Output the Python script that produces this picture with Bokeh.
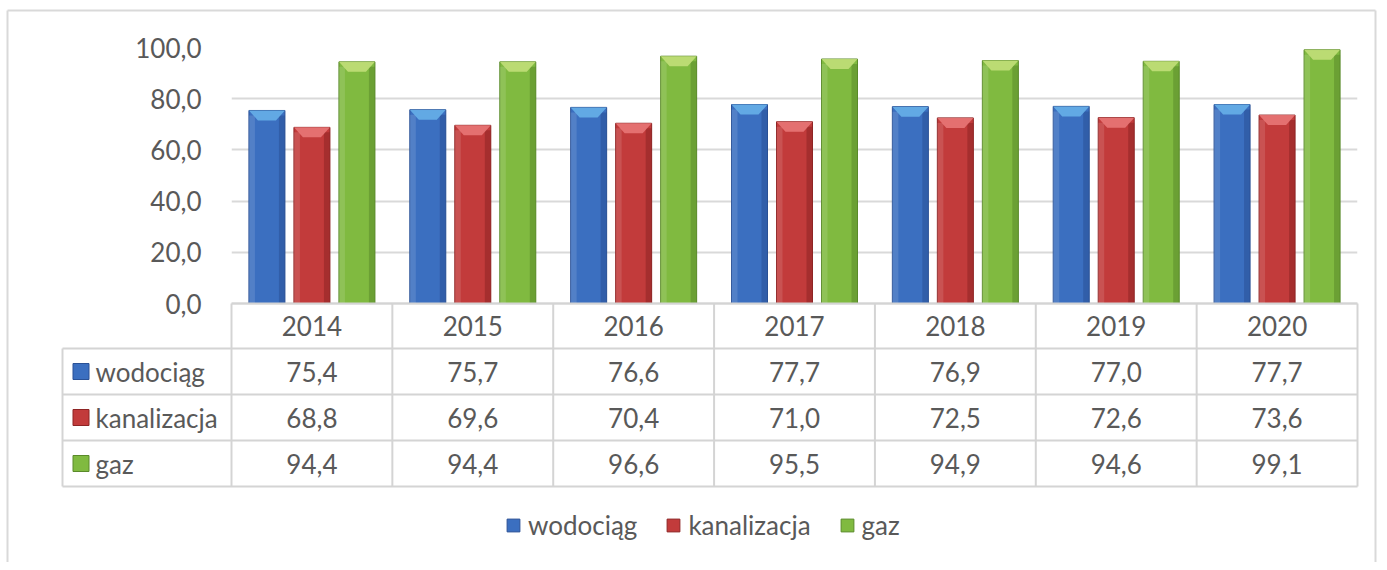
import numpy as np
from bokeh.plotting import figure
from bokeh.models import Range1d, FixedTicker, Legend, LegendItem, ColumnDataSource
from bokeh.embed import file_html
from bokeh.resources import INLINE
from bokeh.core.properties import value

# ---------------- data ----------------
years = ["2014", "2015", "2016", "2017", "2018", "2019", "2020"]
series_names = ["wodociąg", "kanalizacja", "gaz"]
wodociag = [75.4, 75.7, 76.6, 77.7, 76.9, 77.0, 77.7]
kanalizacja = [68.8, 69.6, 70.4, 71.0, 72.5, 72.6, 73.6]
gaz = [94.4, 94.4, 96.6, 95.5, 94.9, 94.6, 99.1]
y_ticks = [0, 20, 40, 60, 80, 100]

# ---------------- style ----------------
FONT_NAME = "Lato"
FONT = value(FONT_NAME)
FS = "26px"
TXT = "#595959"
GRID = "#d9d9d9"
colors = ["#3b6fc0", "#c23b3b", "#80ba40"]
dark = ["#2a5196", "#8e2424", "#5a8a2a"]
caps = ["#6ab4ea", "#ea7a7a", "#c6e07c"]

W, H = 1377, 562
FRAME_L, FRAME_R, FRAME_T = 231, 1357, 47
frame_h = H - FRAME_T
PX_PER_UNIT = 2.56
y_top = 100
y_bottom = y_top - frame_h / PX_PER_UNIT
frame_w = FRAME_R - FRAME_L
n = len(years)
PX_PER_CAT = frame_w / n


def px_x(sx):
    return (sx - FRAME_L) / PX_PER_CAT


def px_y(sy):
    return y_top - (sy - FRAME_T) / PX_PER_UNIT


p = figure(width=W, height=H, output_backend="svg", toolbar_location=None,
           x_range=Range1d(0, n), y_range=Range1d(y_bottom, y_top),
           min_border_left=FRAME_L, min_border_right=W - FRAME_R,
           min_border_top=FRAME_T, min_border_bottom=0,
           background_fill_color="white", border_fill_color="white")
p.outline_line_color = None
p.xaxis.visible = False
p.xgrid.grid_line_color = None
p.ygrid.grid_line_color = GRID
p.ygrid.grid_line_width = 2
p.yaxis.ticker = FixedTicker(ticks=y_ticks)
p.yaxis.major_label_overrides = {t: f"{t:.1f}".replace(".", ",") for t in y_ticks}
p.yaxis.axis_line_color = None
p.yaxis.major_tick_line_color = None
p.yaxis.minor_tick_line_color = None
p.yaxis.major_label_standoff = 24
p.yaxis.major_label_text_font = FONT_NAME
p.yaxis.major_label_text_font_size = FS
p.yaxis.major_label_text_color = TXT

# ---------------- outer chart border ----------------
bx0, bx1 = px_x(7), px_x(W - 2)
by0, by1 = px_y(10), px_y(H + 20)
p.segment(x0=[bx0, bx0, bx1], x1=[bx1, bx0, bx1], y0=[by0, by0, by0], y1=[by0, by1, by1],
          line_color="#d9d9d9", line_width=2, level="overlay")

# ---------------- bars ----------------
bar_w = 36 / PX_PER_CAT
offs = [-45 / PX_PER_CAT, 0.0, 45 / PX_PER_CAT]
cap_h = 10 / PX_PER_UNIT
cap_in = 9 / PX_PER_CAT
idx = np.arange(n)
all_vals = [wodociag, kanalizacja, gaz]
bar_renderers = []
for k, vals in enumerate(all_vals):
    xc = idx + 0.5 + offs[k]
    v = np.array(vals)
    src = ColumnDataSource(dict(x=xc, top=v))
    r = p.vbar(x="x", top="top", bottom=0, width=bar_w, source=src,
               fill_color=colors[k], line_color=dark[k], line_width=1)
    bar_renderers.append(r)
    # right-side darker strip (bevel look)
    p.vbar(x=xc + bar_w / 2 - 3 / PX_PER_CAT, top=v - cap_h * 0.5, bottom=0,
           width=6 / PX_PER_CAT, fill_color=dark[k], fill_alpha=0.55, line_color=None)
    # left-side light strip
    p.vbar(x=xc - bar_w / 2 + 3 / PX_PER_CAT, top=v - cap_h * 0.5, bottom=0,
           width=6 / PX_PER_CAT, fill_color="white", fill_alpha=0.12, line_color=None)
    # top bevel caps
    xs = [[x - bar_w / 2, x + bar_w / 2, x + bar_w / 2 - cap_in, x - bar_w / 2 + cap_in] for x in xc]
    ys = [[t, t, t - cap_h, t - cap_h] for t in v]
    p.patches(xs, ys, fill_color=caps[k], fill_alpha=0.85, line_color=None)

# ---------------- data table ----------------
LBL_LEFT = px_x(62)
HEAD_H = 45 / PX_PER_UNIT
ROW_H = 46 / PX_PER_UNIT
row_edges = [0, -HEAD_H] + [-HEAD_H - ROW_H * (i + 1) for i in range(len(series_names))]
tbl_bottom = row_edges[-1]
TBL = "#d4d4d4"

hx0, hx1, hy = [0], [n], [0]
for ye in row_edges[1:]:
    hx0.append(LBL_LEFT); hx1.append(n); hy.append(ye)
p.segment(x0=hx0, x1=hx1, y0=hy, y1=hy, line_color=TBL, line_width=2, level="overlay")
vx = [LBL_LEFT] + list(range(n + 1))
vy0 = [-HEAD_H] + [0] * (n + 1)
p.segment(x0=vx, x1=vx, y0=vy0, y1=[tbl_bottom] * len(vx), line_color=TBL, line_width=2, level="overlay")

# header
p.text(x=idx + 0.5, y=[-HEAD_H / 2] * n, text=years, text_align="center", text_baseline="middle",
       text_font=FONT, text_font_size=FS, text_color=TXT, level="overlay")
# rows
for k, vals in enumerate(all_vals):
    yc = row_edges[k + 1] - ROW_H / 2
    p.text(x=idx + 0.5, y=[yc] * n, text=[f"{v:.1f}".replace(".", ",") for v in vals],
           text_align="center", text_baseline="middle",
           text_font=FONT, text_font_size=FS, text_color=TXT, level="overlay")
row_centres = [row_edges[k + 1] - ROW_H / 2 for k in range(len(series_names))]
p.rect(x=[px_x(80.5)] * 3, y=row_centres, width=16 / PX_PER_CAT,
       height=16 / PX_PER_UNIT, fill_color=colors, line_color=dark, level="overlay")
p.text(x=[LBL_LEFT] * 3, y=row_centres, text=series_names, x_offset=33,
       text_align="left", text_baseline="middle",
       text_font=FONT, text_font_size=FS, text_color=TXT, level="overlay")

# ---------------- legend ----------------
legend = Legend(items=[LegendItem(label=s, renderers=[r]) for s, r in zip(series_names, bar_renderers)],
                orientation="horizontal", location=(505 - FRAME_L, 21),
                glyph_width=16, glyph_height=16, label_standoff=7, spacing=28,
                padding=0, margin=0, border_line_color=None, background_fill_alpha=0,
                label_text_font=FONT_NAME, label_text_font_size=FS, label_text_color=TXT)
p.add_layout(legend, "center")

open("out.html", "w").write(file_html(p, INLINE))
